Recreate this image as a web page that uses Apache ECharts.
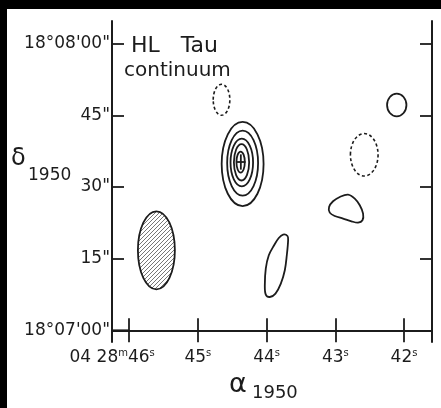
<!DOCTYPE html>
<html>
<head>
<meta charset="utf-8">
<title>HL Tau continuum</title>
<script src="https://cdn.jsdelivr.net/npm/echarts@6/dist/echarts.min.js"></script>
<style>
  html, body { margin: 0; padding: 0; background: #000; }
  #main { position: absolute; left: 7px; top: 9px; width: 434px; height: 399px; background: #fff; }
</style>
</head>
<body>
<div id="main"></div>
<script>
// RA in seconds (04h28m..), Dec in arcsec above 18d07'00"
var raTicks = [46, 45, 44, 43, 42];
var raTickLabels = [['04 28', 'm', '46', 's'], ['45', 's'], ['44', 's'], ['43', 's'], ['42', 's']];
var decTicks = [0, 15, 30, 45, 60];
var decTickLabels = ['18°07\'00"', '15"', '30"', '45"', '18°08\'00"'];

// ellipses: [ra, dec, width in ra, height in dec]
var solidRings = [
  [44.349, 34.8, 0.61, 17.6],
  [44.349, 35.0, 0.45, 13.6],
  [44.361, 35.1, 0.328, 10.0],
  [44.365, 35.15, 0.222, 7.6],
  [44.378, 35.2, 0.122, 4.4],
  [42.106, 47.15, 0.282, 4.74]
];
var dashedRings = [
  [44.656, 48.24, 0.242, 6.48],
  [42.579, 36.73, 0.402, 8.88]
];
var beam = [[45.604, 16.74, 0.538, 16.32]];
var peak = [[44.375, 35.22, 0.136, 3.2]];

// irregular contours, points [ra, dec]
var blobEast = [
  [42.935, 27.90], [42.815, 28.40], [42.717, 27.56], [42.644, 26.16], [42.596, 24.42],
  [42.605, 23.02], [42.669, 22.54], [42.765, 22.81], [42.887, 23.38], [43.008, 23.92],
  [43.081, 24.63], [43.091, 25.81], [43.033, 27.00]
];
var blobSouth = [
  [43.760, 20.03], [43.696, 19.74], [43.687, 18.84], [43.706, 15.70], [43.735, 12.56],
  [43.793, 9.77], [43.871, 7.68], [43.953, 6.97], [44.012, 7.47], [44.026, 9.42],
  [44.012, 12.91], [43.968, 15.70], [43.891, 17.79], [43.823, 19.32]
];
var blobs = [blobEast, blobSouth];

(function () {
  var ink = '#1c1c1c';
  var font = 'DejaVu Sans';
  var lw = 1.8;
  var raMin = 41.593, raMax = 46.25, decMin = -2.45, decMax = 64.73;
  var myChart = echarts.init(document.getElementById('main'));

  function hatch() {
    var c = document.createElement('canvas');
    c.width = 4;
    c.height = 4;
    var ctx = c.getContext('2d');
    ctx.strokeStyle = '#666';
    ctx.lineWidth = 0.9;
    ctx.beginPath();
    ctx.moveTo(0, 4); ctx.lineTo(4, 0);
    ctx.moveTo(-1, 1); ctx.lineTo(1, -1);
    ctx.moveTo(3, 5); ctx.lineTo(5, 3);
    ctx.stroke();
    return c;
  }
  var hatchImg = hatch();

  function ellipse(style) {
    return function (params, api) {
      var c = api.coord([api.value(0), api.value(1)]);
      var s = api.size([api.value(2), api.value(3)]);
      return {
        type: 'ellipse',
        shape: { cx: c[0], cy: c[1], rx: s[0] / 2, ry: s[1] / 2 },
        style: style
      };
    };
  }

  function blob(params, api) {
    var pts = blobs[api.value(2)].map(function (p) { return api.coord(p); });
    return {
      type: 'polygon',
      shape: { points: pts, smooth: 0.35 },
      style: { fill: null, stroke: ink, lineWidth: lw }
    };
  }

  function cross(params, api) {
    var c = api.coord([api.value(0), api.value(1)]);
    var s = api.size([api.value(2), api.value(3)]);
    return {
      type: 'group',
      children: [
        { type: 'line', shape: { x1: c[0] - s[0] / 2, y1: c[1], x2: c[0] + s[0] / 2, y2: c[1] }, style: { stroke: ink, lineWidth: lw } },
        { type: 'line', shape: { x1: c[0], y1: c[1] - s[1] / 2, x2: c[0], y2: c[1] + s[1] / 2 }, style: { stroke: ink, lineWidth: lw } }
      ]
    };
  }

  // the lowest dec tick runs on to the first ra tick, closing a little box in the corner
  function cornerTick(params, api) {
    var a = api.coord([raMax, api.value(1)]);
    var b = api.coord([api.value(0), api.value(1)]);
    return { type: 'line', shape: { x1: a[0], y1: a[1], x2: b[0], y2: b[1] }, style: { stroke: ink, lineWidth: lw } };
  }

  function raLabel(v) {
    var i = raTicks.indexOf(v);
    if (i < 0) return '';
    var parts = raTickLabels[i];
    return parts.map(function (p, k) {
      if (k % 2 == 0) return '{n|' + p + '}';
      return (i == 0 && k == parts.length - 1) ? '{e|' + p + '}' : '{s|' + p + '}';
    }).join('');
  }

  function decLabel(v) {
    var i = decTicks.indexOf(v);
    return i < 0 ? '' : decTickLabels[i];
  }

  var axisLine = { lineStyle: { color: ink, width: 2 } };
  var tick = { inside: true, length: 12, lineStyle: { color: ink, width: lw } };
  var raRich = {
    n: { fontSize: 17, fontFamily: font, color: ink, lineHeight: 19 },
    s: { fontSize: 10, fontFamily: font, color: ink, verticalAlign: 'top', lineHeight: 19 },
    e: { fontSize: 10, fontFamily: font, color: ink, verticalAlign: 'top', lineHeight: 19, padding: [0, 34, 0, 0] }
  };

  var option = {
    animation: false,
    textStyle: { fontFamily: font },
    grid: { left: 105, top: 12, width: 320, height: 321 },
    xAxis: [{
      type: 'value', position: 'bottom', inverse: true, min: raMin, max: raMax,
      axisLine: axisLine, splitLine: { show: false },
      axisTick: Object.assign({ customValues: raTicks }, tick),
      axisLabel: { customValues: raTicks.slice(1), formatter: raLabel, margin: 6, color: ink, rich: raRich }
    }, {
      type: 'value', position: 'top', inverse: true, min: raMin, max: raMax,
      axisLine: axisLine, splitLine: { show: false },
      axisTick: Object.assign({ customValues: raTicks }, tick),
      axisLabel: { show: false }
    }, {
      // first label (with the 04h28m prefix) kept on its own so it is not hidden by its neighbour
      type: 'value', position: 'bottom', inverse: true, min: raMin, max: raMax,
      axisLine: { show: false }, axisTick: { show: false }, splitLine: { show: false },
      axisLabel: { customValues: raTicks.slice(0, 1), formatter: raLabel, margin: 6, color: ink, rich: raRich }
    }],
    yAxis: [{
      type: 'value', position: 'left', min: decMin, max: decMax,
      axisLine: axisLine, splitLine: { show: false },
      axisTick: Object.assign({ customValues: decTicks }, tick),
      axisLabel: { customValues: decTicks, formatter: decLabel, margin: 2, fontSize: 17, fontFamily: font, color: ink }
    }, {
      type: 'value', position: 'right', min: decMin, max: decMax,
      axisLine: axisLine, splitLine: { show: false },
      axisTick: Object.assign({ customValues: decTicks }, tick),
      axisLabel: { show: false }
    }],
    graphic: [
      { type: 'text', left: 124, top: 26, style: { text: 'HL   Tau', font: '22px "DejaVu Sans"', fill: ink } },
      { type: 'text', left: 117, top: 52, style: { text: 'continuum', font: '20px "DejaVu Sans"', fill: ink } },
      { type: 'text', left: 4, top: 138, style: { text: 'δ', font: '24px "DejaVu Sans"', fill: ink } },
      { type: 'text', left: 21, top: 158, style: { text: '1950', font: '17px "DejaVu Sans"', fill: ink } },
      { type: 'text', left: 222, top: 362, style: { text: 'α', font: '27px "DejaVu Sans"', fill: ink } },
      { type: 'text', left: 245, top: 375, style: { text: '1950', font: '18px "DejaVu Sans"', fill: ink } }
    ],
    series: [{
      type: 'custom', name: 'beam', renderItem: ellipse({ fill: { image: hatchImg, repeat: 'repeat' }, stroke: ink, lineWidth: lw }),
      data: beam
    }, {
      type: 'custom', name: 'positive', renderItem: ellipse({ fill: null, stroke: ink, lineWidth: lw }),
      data: solidRings
    }, {
      type: 'custom', name: 'negative', renderItem: ellipse({ fill: null, stroke: ink, lineWidth: 1.6, lineDash: [3, 2.5] }),
      data: dashedRings
    }, {
      type: 'custom', name: 'positive blobs', renderItem: blob,
      data: blobs.map(function (b, i) { return [b[0][0], b[0][1], i]; })
    }, {
      type: 'custom', name: 'peak', renderItem: cross,
      data: peak
    }, {
      type: 'custom', name: 'corner', renderItem: cornerTick,
      data: [[raTicks[0], decTicks[0]]]
    }]
  };
  myChart.setOption(option);
})();
</script>
</body>
</html>
